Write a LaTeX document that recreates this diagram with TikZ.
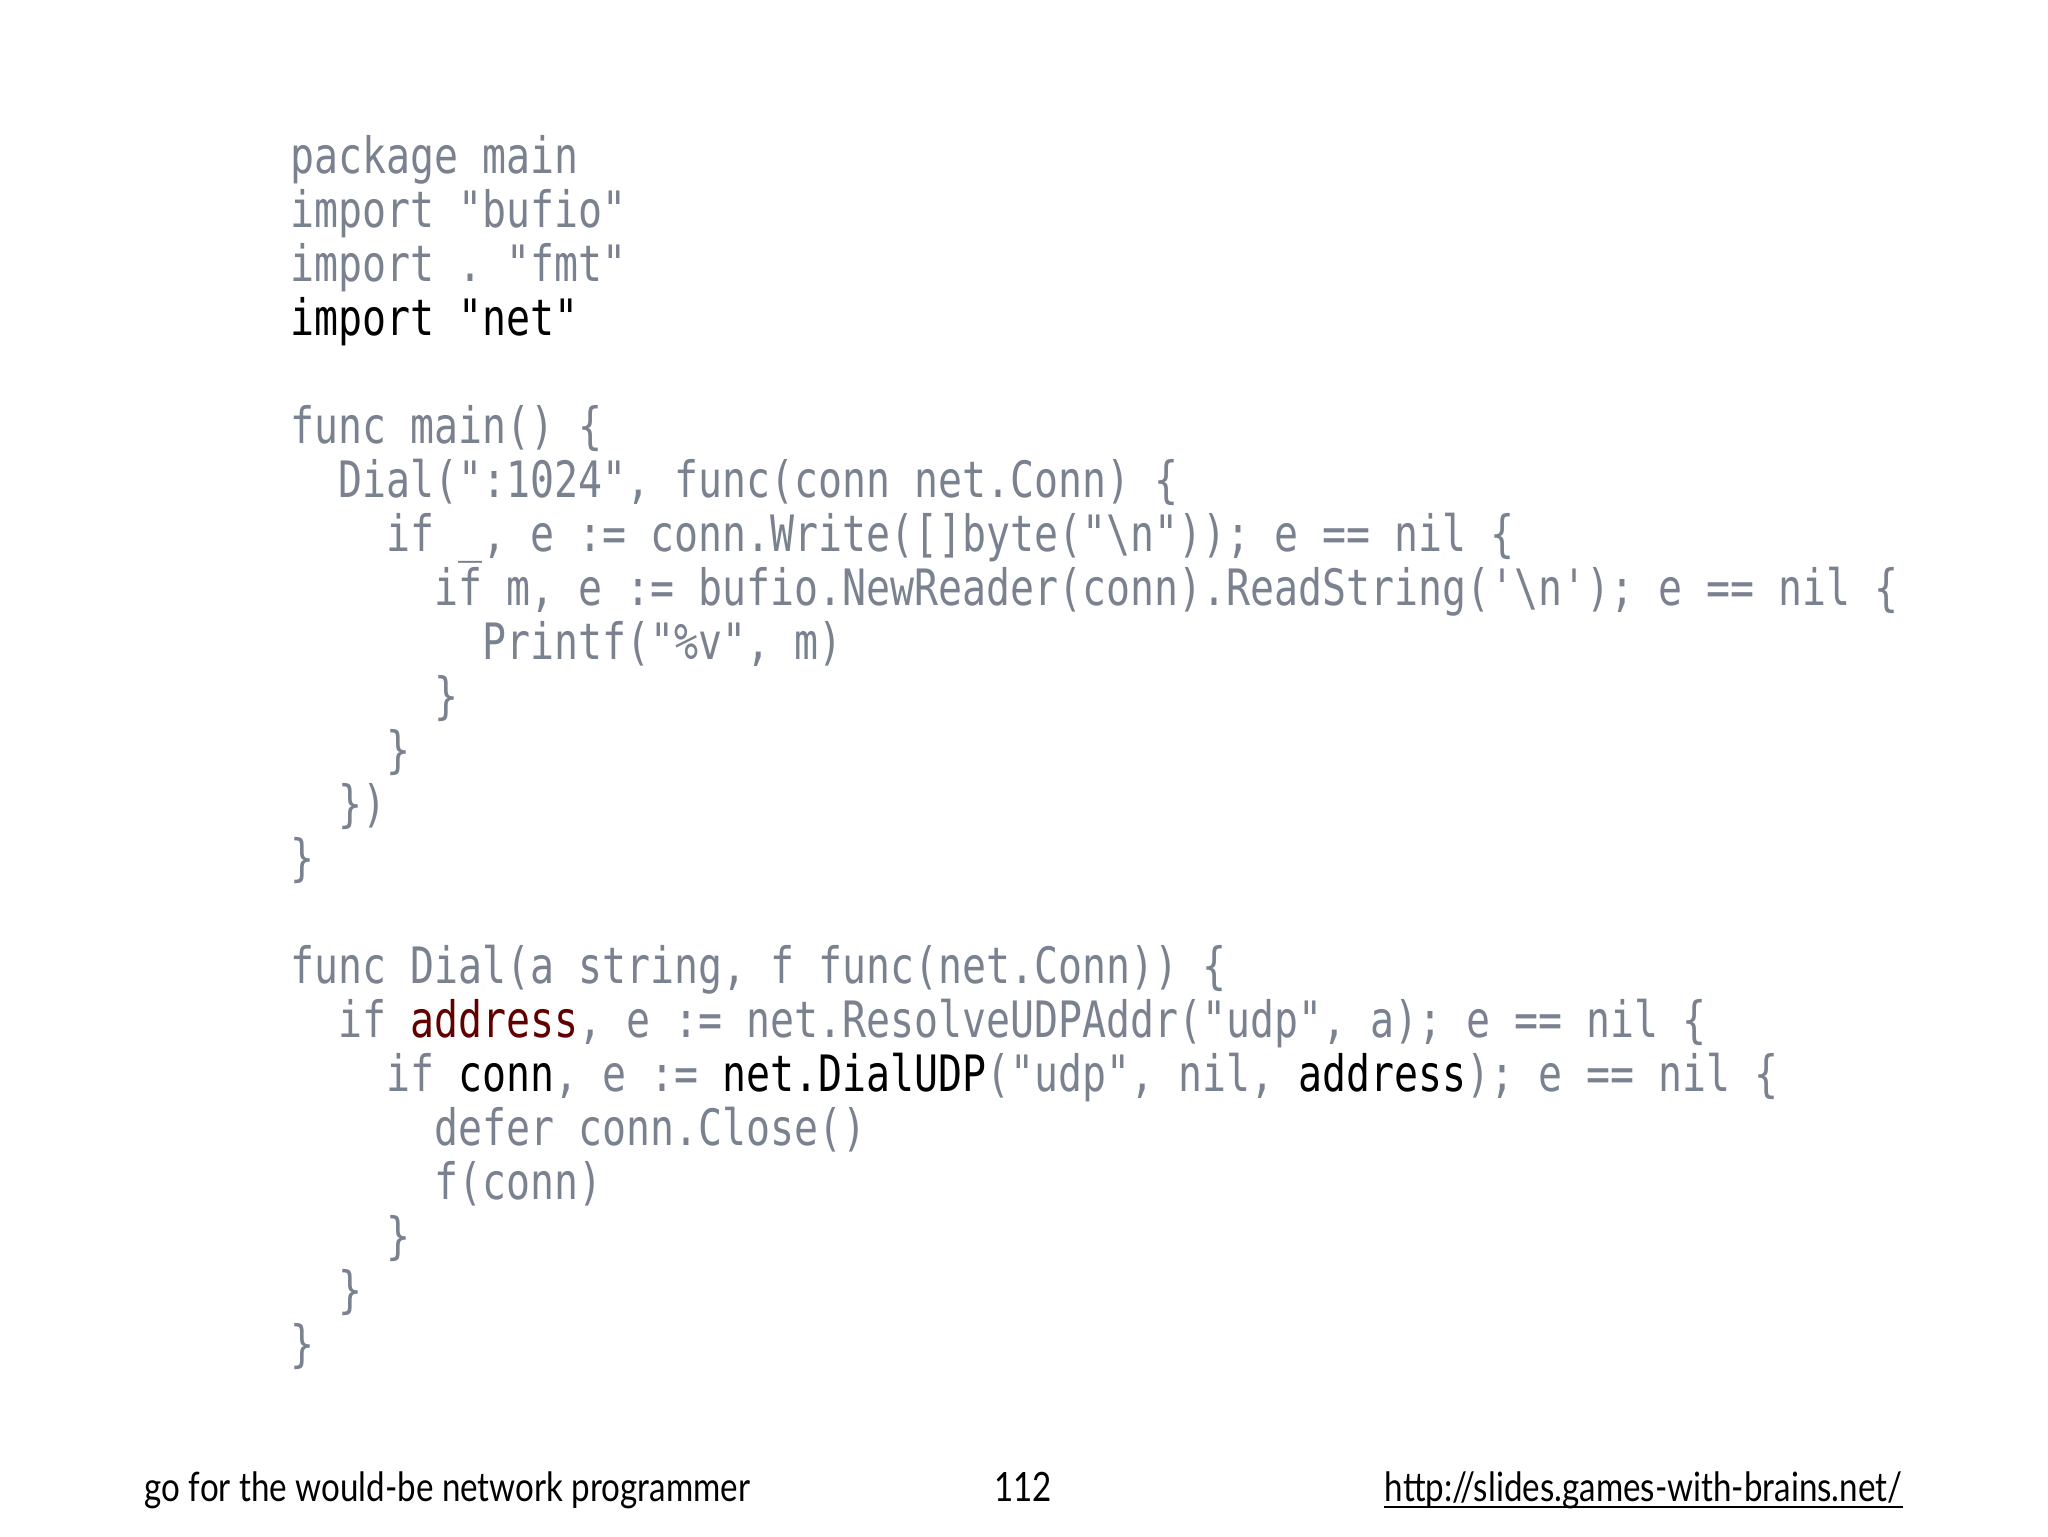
\documentclass[tikz,border=0pt]{standalone}
\usepackage{fontspec}
\setmonofont{DejaVu Sans Mono}[FakeStretch=0.795]
\newfontfamily\footfont{Lato}[FakeStretch=0.82]
\definecolor{codegrey}{RGB}{122,130,144}
\definecolor{codered}{RGB}{96,0,0}
\tikzset{
  codeline/.style={anchor=base west, inner sep=0pt, font=\ttfamily\fontsize{14.27pt}{16pt}\selectfont, text=codegrey},
  foottext/.style={inner sep=0pt, font=\footfont\fontsize{11.5pt}{13pt}\selectfont, text=black}
}
\newcommand{\bs}{\textbackslash}
\newcommand{\blk}[1]{\textcolor{black}{#1}}
\begin{document}
\begin{tikzpicture}[x=0.1mm,y=-0.1mm]
\path[fill=white] (0,0) rectangle (2048,1536);
\useasboundingbox (0,0) rectangle (2048,1536);
\def\cw{24.01}
\def\lh{54.0}
\def\ly{173}
% lines
\node[codeline] (l1) at (290+0*\cw, \ly+0*\lh) {package main};
\node[codeline] (l2) at (290+0*\cw, \ly+1*\lh) {import "bufio"};
\node[codeline] (l3) at (290+0*\cw, \ly+2*\lh) {import . "fmt"};
\node[codeline, text=black] (l4) at (290+0*\cw, \ly+3*\lh) {import "net"};
\node[codeline] (l6) at (290+0*\cw, \ly+5*\lh) {func main() \{};
\node[codeline] (l7) at (290+2*\cw, \ly+6*\lh) {Dial(":1024", func(conn net.Conn) \{};
\node[codeline] (l8) at (290+4*\cw, \ly+7*\lh) {if \_, e := conn.Write([]byte("\bs n")); e == nil \{};
\node[codeline] (l9) at (290+6*\cw, \ly+8*\lh) {if m, e := bufio.NewReader(conn).ReadString('\bs n'); e == nil \{};
\node[codeline] (l10) at (290+8*\cw, \ly+9*\lh) {Printf("\%v", m)};
\node[codeline] (l11) at (290+6*\cw, \ly+10*\lh) {\}};
\node[codeline] (l12) at (290+4*\cw, \ly+11*\lh) {\}};
\node[codeline] (l13) at (290+2*\cw, \ly+12*\lh) {\})};
\node[codeline] (l14) at (290+0*\cw, \ly+13*\lh) {\}};
\node[codeline] (l16) at (290+0*\cw, \ly+15*\lh) {func Dial(a string, f func(net.Conn)) \{};
\node[codeline] (l17) at (290+2*\cw, \ly+16*\lh) {if \textcolor{codered}{address}, e := net.ResolveUDPAddr("udp", a); e == nil \{};
\node[codeline] (l18) at (290+4*\cw, \ly+17*\lh) {if \blk{conn}, e := \blk{net.DialUDP}("udp", nil, \blk{address}); e == nil \{};
\node[codeline] (l19) at (290+6*\cw, \ly+18*\lh) {defer conn.Close()};
\node[codeline] (l20) at (290+6*\cw, \ly+19*\lh) {f(conn)};
\node[codeline] (l21) at (290+4*\cw, \ly+20*\lh) {\}};
\node[codeline] (l22) at (290+2*\cw, \ly+21*\lh) {\}};
\node[codeline] (l23) at (290+0*\cw, \ly+22*\lh) {\}};
% footer
\node[foottext, anchor=base west] (f1) at (144,1501) {go for the would-be network programmer};
\node[foottext, anchor=base] (f2) at (1023,1501) {112};
\node[foottext, anchor=base east] (f3) at (1903,1501) {http://slides.games-with-brains.net/};
\draw[line width=0.15mm] (f3.base west) ++(0,6) coordinate (u1) -- (f3.base east |- u1);
\end{tikzpicture}
\end{document}
